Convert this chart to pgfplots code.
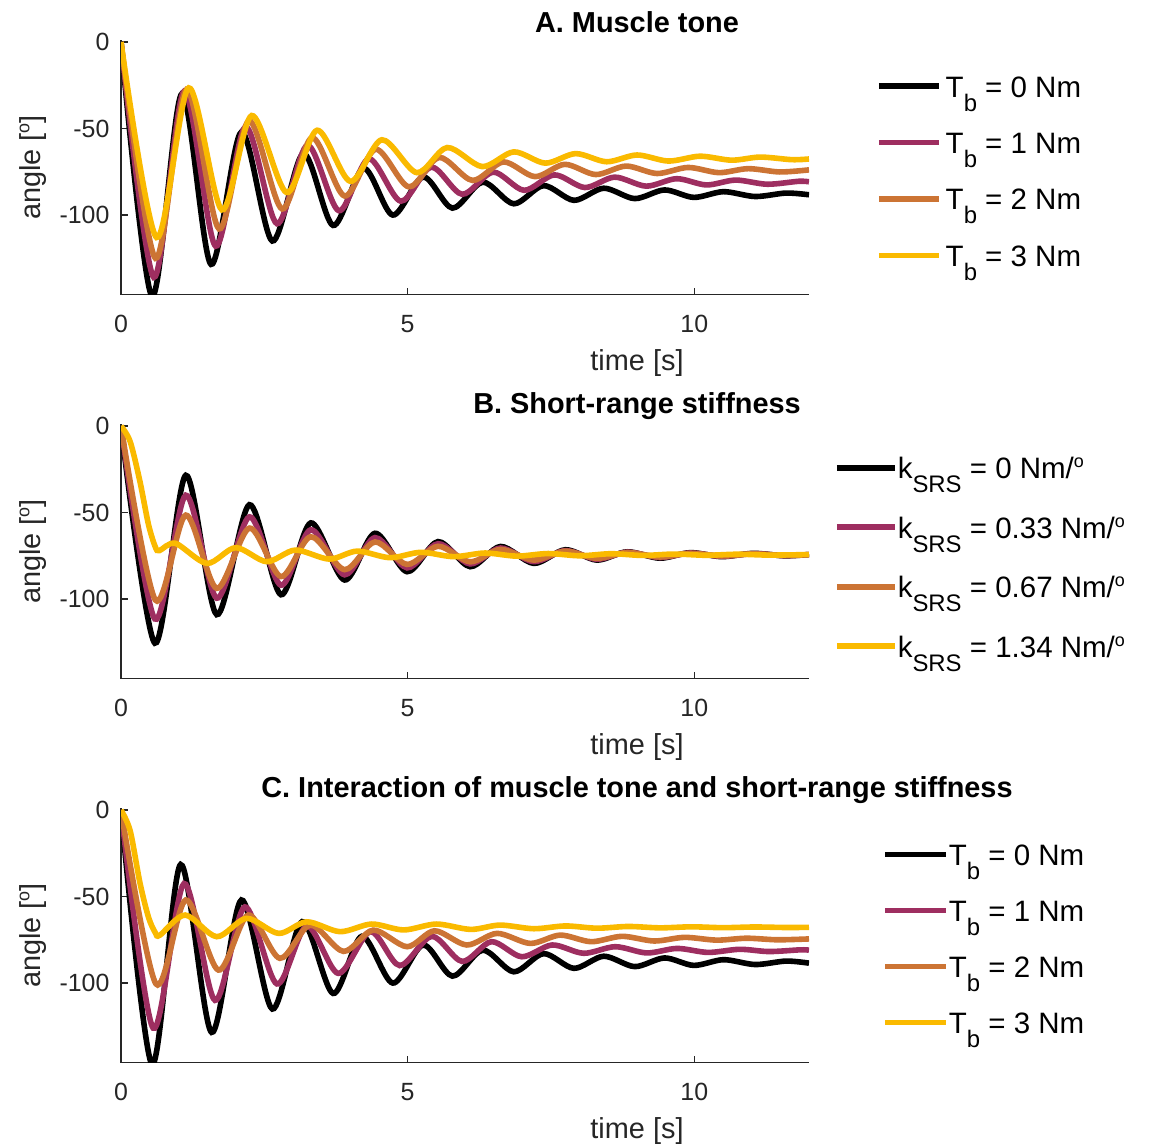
\documentclass[border=0pt]{standalone}
\usepackage{pgfplots}
\pgfplotsset{compat=1.18}
\usepackage{fontspec}
\setmainfont{Liberation Sans}
\definecolor{c0}{RGB}{0,0,0}
\definecolor{c1}{RGB}{158,46,96}
\definecolor{c2}{RGB}{204,116,52}
\definecolor{c3}{RGB}{250,186,0}
\definecolor{axgray}{RGB}{38,38,38}
\newcommand{\lsub}[1]{\raisebox{-7bp}{\fontsize{12}{12}\selectfont #1}}
\newcommand{\lsup}{\raisebox{5.5bp}{\fontsize{9}{9}\selectfont o}}
\pgfplotsset{
 panel/.style={
  scale only axis, width=344bp, height=127.15bp,
  xmin=0, xmax=12, ymin=-146, ymax=1,
  axis x line*=bottom, axis y line*=left,
  axis line style={line width=0.65bp, draw=axgray, -},
  xtick={0,5,10}, xticklabels={0,5,10},
  ytick={-100,-50,0}, yticklabels={-100,-50,0},
  tick align=inside, major tick length=3.5bp,
  tick style={line width=0.65bp, draw=axgray},
  ticklabel style={font=\fontsize{12.5}{12.5}\selectfont, text=black!85},
  xticklabel style={anchor=center, yshift=-14.7bp},
  yticklabel style={anchor=east, xshift=-2.3bp},
  label style={font=\fontsize{14.5}{14.5}\selectfont, text=black!85},
  xlabel={time [s]},
  ylabel={angle [\lsup]},
  xlabel style={at={(axis description cs:0.75,-0.269)}, anchor=center},
  ylabel style={at={(axis description cs:-0.128,0.5)}, anchor=center},
  every axis title shift=0pt,
  title style={font=\bfseries\fontsize{14.5}{14.5}\selectfont, at={(axis description cs:0.75,1.072)}, anchor=center},
  legend cell align=left,
  every axis plot/.append style={line width=2.8bp, smooth},
 },
 leg/.style n args={5}{legend style={at={(#1,#2)}, anchor=north west, draw=none, fill=none, inner sep=0pt, row sep=#3, column sep=#5, font=\fontsize{14.8}{14.8}\selectfont, nodes={inner sep=0pt, text height=11bp, text depth=7bp}},
   legend image code/.code={\draw[##1,line width=2.8bp] (0bp,3.5bp) -- (#4,3.5bp);}},
}
\begin{document}
\begin{tikzpicture}
\path[use as bounding box] (0,0) rectangle (575.5bp,-572.5bp);
% ---------------- A
\begin{axis}[panel, at={(60.5bp,-147.3bp)}, anchor=south west,
  title={A. Muscle tone}, leg={1.097}{0.8647}{10.2bp}{30bp}{2bp}]
\addplot[c0] coordinates {(0,0)(0.54,-147)(1.06,-30)(1.57,-128.5)(2.10,-52)(2.64,-115)(3.18,-64.5)(3.70,-106)(4.23,-73)(4.74,-100)(5.27,-78)(5.78,-96)(6.31,-81)(6.85,-93.5)(7.37,-83)(7.90,-91.5)(8.42,-84.5)(8.96,-90.5)(9.48,-85.5)(9.99,-89.8)(10.51,-86.5)(11.06,-89.3)(11.60,-87.3)(12,-88.3)};
\addplot[c1] coordinates {(0,0)(0.57,-136)(1.10,-28.5)(1.65,-118)(2.17,-49)(2.72,-105)(3.25,-59.7)(3.80,-97.5)(4.32,-67.5)(4.88,-92)(5.41,-72.3)(5.95,-88)(6.49,-75.2)(7.03,-85.7)(7.56,-76.8)(8.09,-84.1)(8.61,-78.1)(9.16,-83.3)(9.69,-79)(10.21,-82.6)(10.72,-79.8)(11.27,-82.2)(11.82,-80.5)(12,-80.8)};
\addplot[c2] coordinates {(0,0)(0.60,-125)(1.14,-27.5)(1.71,-108)(2.23,-45.5)(2.81,-96.5)(3.33,-55.3)(3.90,-89)(4.44,-62)(5.02,-83.7)(5.55,-66.7)(6.13,-80)(6.67,-69.3)(7.22,-77.8)(7.74,-70.7)(8.28,-76.6)(8.81,-71.7)(9.35,-76)(9.89,-72.5)(10.43,-75.5)(10.94,-73.2)(11.49,-75.1)(12,-73.9)};
\addplot[c3] coordinates {(0,0)(0.62,-113)(1.18,-26.5)(1.76,-97)(2.28,-42.5)(2.89,-87)(3.42,-51)(4.00,-80.5)(4.55,-56.5)(5.16,-75.5)(5.69,-61)(6.30,-72)(6.85,-63.5)(7.40,-70)(7.93,-64.5)(8.47,-69.2)(9.00,-65.3)(9.55,-68.8)(10.10,-66)(10.65,-68.3)(11.15,-66.5)(11.70,-68)(12,-67.6)};
\legend{T\lsub{b} = 0 Nm, T\lsub{b} = 1 Nm, T\lsub{b} = 2 Nm, T\lsub{b} = 3 Nm}
\end{axis}
% ---------------- B
\begin{axis}[panel, at={(60.5bp,-339.3bp)}, anchor=south west,
  title={B. Short-range stiffness}, leg={1.036}{0.874}{11.75bp}{29bp}{0bp}]
\addplot[c0] coordinates {(0,0)(0.59,-125.5)(1.13,-28.5)(1.67,-109)(2.24,-45.5)(2.79,-97.5)(3.31,-56)(3.90,-89)(4.43,-62)(4.99,-84.2)(5.53,-66.8)(6.09,-81.3)(6.62,-69.6)(7.2,-79.4)(7.75,-71.5)(8.3,-77.5)(8.83,-72.7)(9.4,-76.4)(9.93,-73.2)(10.48,-75.5)(11.03,-73.6)(11.57,-75)(12,-74.3)};
\addplot[c1] coordinates {(0,0)(0.59,-111.5)(1.13,-40)(1.67,-99.5)(2.24,-52.5)(2.79,-92)(3.31,-60)(3.90,-86)(4.43,-64.5)(4.99,-82)(5.53,-68)(6.09,-79.7)(6.62,-70.5)(7.2,-78.4)(7.75,-72)(8.3,-77)(8.83,-72.9)(9.4,-76)(9.93,-73.4)(10.48,-75.3)(11.03,-73.8)(11.57,-74.9)(12,-74.3)};
\addplot[c2] coordinates {(0,0)(0.60,-100.6)(1.13,-51.5)(1.67,-93.8)(2.24,-59)(2.79,-87)(3.31,-64)(3.90,-83)(4.43,-67)(4.99,-80)(5.53,-69.5)(6.09,-78.5)(6.62,-71.3)(7.2,-77.5)(7.75,-72.3)(8.3,-76.5)(8.83,-73.1)(9.4,-75.7)(9.93,-73.6)(10.48,-75.1)(11.03,-73.9)(11.57,-74.8)(12,-74.3)};
\addplot[c3] coordinates {(0,0)(0.16,-9)(0.33,-32)(0.48,-57)(0.60,-70)(0.67,-72)(0.95,-67.8)(1.50,-79.4)(2.00,-70.3)(2.54,-78.4)(3.04,-71.7)(3.63,-76.9)(4.12,-72.3)(4.69,-76.1)(5.23,-73)(5.80,-75.5)(6.35,-73.4)(6.90,-75.2)(7.45,-73.7)(8.00,-75)(8.55,-73.8)(9.10,-74.8)(9.65,-74)(10.20,-74.7)(10.75,-74.1)(11.30,-74.6)(12,-74.3)};
\legend{k\lsub{SRS} = 0 Nm/\lsup, k\lsub{SRS} = 0.33 Nm/\lsup, k\lsub{SRS} = 0.67 Nm/\lsup, k\lsub{SRS} = 1.34 Nm/\lsup}
\end{axis}
% ---------------- C
\begin{axis}[panel, at={(60.5bp,-531.3bp)}, anchor=south west,
  title={C. Interaction of muscle tone and short-range stiffness}, leg={1.106}{0.8636}{10bp}{30.5bp}{0bp}]
\addplot[c0] coordinates {(0,0)(0.54,-147)(1.04,-31.5)(1.58,-128.5)(2.10,-52)(2.64,-115)(3.16,-64.5)(3.70,-106)(4.20,-73)(4.74,-100)(5.27,-78)(5.78,-96)(6.31,-81)(6.85,-93.5)(7.37,-83)(7.90,-91.5)(8.42,-84.5)(8.96,-90.5)(9.48,-85.5)(9.99,-89.8)(10.51,-86.5)(11.06,-89.3)(11.60,-87.3)(12,-88.5)};
\addplot[c1] coordinates {(0,0)(0.56,-126)(1.10,-42.5)(1.64,-110)(2.16,-56)(2.72,-100.5)(3.24,-67)(3.79,-94.4)(4.35,-70.3)(4.86,-89.9)(5.42,-73)(5.95,-87.5)(6.46,-76.1)(6.99,-84.8)(7.52,-78)(8.07,-82.8)(8.62,-79)(9.17,-82.6)(9.70,-80)(10.24,-82.3)(10.79,-80.5)(11.30,-81.8)(11.85,-80.8)(12,-81)};
\addplot[c2] coordinates {(0,0)(0.61,-100.5)(1.13,-52)(1.70,-92.5)(2.22,-60.7)(2.77,-85.7)(3.30,-66.5)(3.88,-81.7)(4.40,-69.4)(4.99,-79)(5.47,-69.8)(6.03,-78)(6.56,-71.3)(7.14,-77.1)(7.66,-72.3)(8.20,-76.1)(8.74,-73)(9.30,-75.7)(9.83,-73.6)(10.39,-75.2)(10.91,-74.1)(11.45,-75)(12,-74.5)};
\addplot[c3] coordinates {(0,0)(0.16,-12)(0.33,-42)(0.48,-62)(0.60,-71)(0.68,-72.3)(1.12,-60.7)(1.67,-73.2)(2.19,-62.6)(2.75,-71.3)(3.24,-64.6)(3.82,-70.3)(4.37,-65.9)(4.93,-69.3)(5.50,-65.9)(6.10,-69)(6.61,-66.5)(7.2,-68.6)(7.75,-67)(8.3,-68.3)(8.85,-67.3)(9.4,-68.1)(9.95,-67.5)(10.5,-68)(11.05,-67.6)(11.6,-67.9)(12,-67.8)};
\legend{T\lsub{b} = 0 Nm, T\lsub{b} = 1 Nm, T\lsub{b} = 2 Nm, T\lsub{b} = 3 Nm}
\end{axis}
\end{tikzpicture}
\end{document}
